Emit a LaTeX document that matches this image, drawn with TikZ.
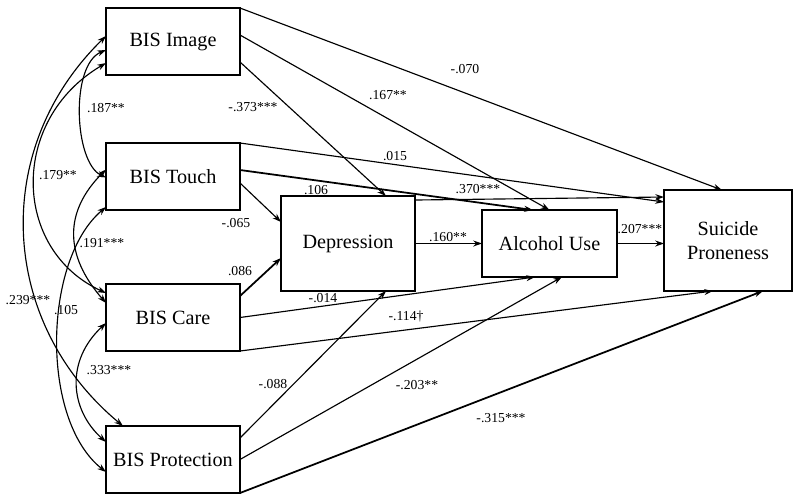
\documentclass[tikz,border=0pt]{standalone}
\usepackage{fontspec}
\setmainfont{Liberation Serif}
\usepackage{tikz}
\usetikzlibrary{arrows.meta}
\usetikzlibrary{calc,shadows}
\tikzset{
    var/.style={
        draw,
        rectangle,
        fill=white,
        line width=0.65pt,
        drop shadow={shadow xshift=0.55pt, shadow yshift=-0.55pt, fill=black, opacity=1},
        inner sep=0pt,
        outer sep=0pt,
        minimum width=2.68cm,
        minimum height=1.34cm,
        align=center,
        font=\rmfamily\fontsize{11.5}{13.6}\selectfont
    },
    effect/.style={
        draw,
        -{Stealth[length=5pt, width=3.4pt]},
        line width=0.65pt
    },
    cov/.style={
        draw,
        {Stealth[length=5pt, width=3.4pt]}-{Stealth[length=5pt, width=3.4pt]},
        line width=0.65pt
    },
    coef/.style={font=\rmfamily\fontsize{7.8}{9}\selectfont, inner sep=1pt}
}

\begin{document}
\begin{tikzpicture}[x=0.02cm, y=-0.02cm]
    \useasboundingbox (0,0) rectangle (800,501);
    % Variables
    \node[var] (img) at (173,41.5) {BIS Image};
    \node[var] (tch) at (173,176.5) {BIS Touch};
    \node[var] (care) at (173,317.5) {BIS Care};
    \node[var] (prot) at (173,459.5) {BIS Protection};
    \node[var, minimum height=1.9cm] (dep) at (348,243.5) {Depression};
    \node[var, minimum width=2.7cm] (alc) at (549.5,243.5) {Alcohol Use};
    \node[var, minimum width=2.56cm, minimum height=2.02cm] (sp) at (728,240.5) {Suicide\\Proneness};

    % Paths from BIS Image
    \draw[effect] (img.north east) -- ([xshift=-0.12cm]sp.north);
    \draw[effect] ([yshift=0.13cm]img.east) -- (alc.north);
    \draw[effect] ([yshift=-0.41cm]img.east) -- ([xshift=0.76cm]dep.north);
    % Paths from BIS Touch
    \draw[effect] (tch.north east) -- ([yshift=0.77cm]sp.west);
    \draw[effect, line width=1pt] ([yshift=0.13cm]tch.east) -- ([xshift=-0.33cm]alc.north);
    \draw[effect] ([yshift=-0.13cm]tch.east) -- ([yshift=0.43cm]dep.west);
    % Mediators
    \draw[effect] ([yshift=0.87cm]dep.east) -- ([yshift=0.87cm]sp.west);
    \draw[effect] (dep.east) -- (alc.west);
    \draw[effect] (alc.east) -- (alc.east -| sp.west);
    % Paths from BIS Care
    \draw[effect, line width=1pt] ([yshift=0.43cm]care.east) -- ([yshift=-0.29cm]dep.west);
    \draw[effect] (care.east) -- ([xshift=-0.29cm]alc.south);
    \draw[effect] (care.south east) -- ([xshift=-0.3cm]sp.south);
    % Paths from BIS Protection
    \draw[effect] ([yshift=0.43cm]prot.east) -- ([xshift=0.76cm]dep.south);
    \draw[effect] (prot.east) -- ([xshift=0.25cm]alc.south);
    \draw[effect, line width=1pt] (prot.south east) -- ([xshift=0.7cm]sp.south);

    % Covariances
    \draw[cov] ([yshift=0.11cm]img.west) .. controls +(-117,114) and +(-123,-102) .. ([xshift=0.34cm]prot.north west);
    \draw[cov] ([yshift=-0.43cm]img.west) .. controls +(-97,57) and +(-94,-43) .. ([yshift=0.49cm]care.west);
    \draw[cov] ([yshift=-0.17cm]img.west) .. controls +(-36,15) and +(-32,-15) .. ([yshift=-0.02cm]tch.west);
    \draw[cov] ([yshift=0.14cm]tch.west) .. controls +(-42,42) and +(-42,-48) .. ([yshift=0.29cm]care.west);
    \draw[cov] ([yshift=0.06cm]tch.south west) .. controls +(-63,53) and +(-66,-52) .. ([yshift=-0.25cm]prot.west);
    \draw[cov] ([yshift=-0.11cm]care.west) .. controls +(-41,38) and +(-36,-32) .. ([yshift=0.35cm]prot.west);

    % Coefficients
    \node[coef] (cImgSp) at (465,69) {-.070};
    \node[coef] (cImgAlc) at (388,95) {.167**};
    \node[coef] (cImgDep) at (253,107) {-.373***};
    \node[coef] (cTchSp) at (395,156) {.015};
    \node[coef] (cTchAlc) at (478,189) {.370***};
    \node[coef] (cTchDep) at (236,223) {-.065};
    \node[coef] (cDepSp) at (316,190) {.106};
    \node[coef] (cDepAlc) at (448,237) {.160**};
    \node[coef] (cAlcSp) at (640,229) {.207***};
    \node[coef] (cCareDep) at (240,271) {.086};
    \node[coef] (cCareAlc) at (323,298) {-.014};
    \node[coef] (cCareSp) at (406,317) {-.114†};
    \node[coef] (cProtDep) at (273,384) {-.088};
    \node[coef] (cProtAlc) at (417,385) {-.203**};
    \node[coef] (cProtSp) at (501,418) {-.315***};
    \node[coef] (rImgTch) at (106,108) {.187**};
    \node[coef] (rImgCare) at (58,175) {.179**};
    \node[coef] (rImgProt) at (28,300) {.239***};
    \node[coef] (rTchCare) at (102,243) {.191***};
    \node[coef] (rTchProt) at (66,310) {.105};
    \node[coef] (rCareProt) at (109,370) {.333***};
\end{tikzpicture}
\end{document}
